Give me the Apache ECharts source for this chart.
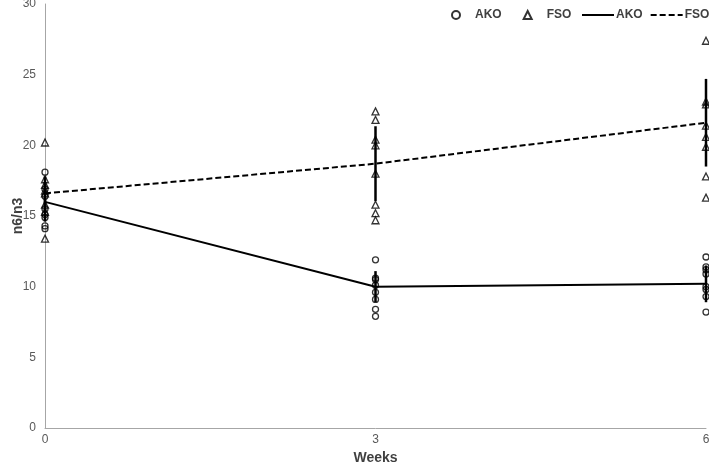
<!DOCTYPE html>
<html>
<head>
<meta charset="utf-8">
<script src="https://cdn.jsdelivr.net/npm/echarts@6/dist/echarts.min.js"></script>
<style>html,body{margin:0;padding:0;background:#fff}#c{width:709px;height:464px}</style>
</head>
<body>
<div id="c"></div>
<script>
var weeks = [0, 3, 6];
var akoWeek0 = [18.1, 16.9, 16.4, 15.5, 15.1, 14.9, 14.3, 14.1];
var akoWeek3 = [11.9, 10.6, 10.5, 10.1, 9.6, 9.1, 8.4, 7.9];
var akoWeek6 = [12.1, 11.4, 11.2, 10.9, 10.0, 9.8, 9.3, 8.2];
var fsoWeek0 = [20.2, 17.6, 17.2, 16.8, 16.6, 15.8, 15.3, 13.4];
var fsoWeek3 = [22.4, 21.8, 20.4, 20.0, 18.0, 15.8, 15.2, 14.7];
var fsoWeek6 = [27.4, 23.1, 22.9, 21.4, 20.6, 19.9, 17.8, 16.3];
var akoMean = [16.0, 10.0, 10.2];
var fsoMean = [16.6, 18.7, 21.6];
var akoSd = [1.4, 1.1, 1.3];
var fsoSd = [1.2, 2.65, 3.1];
var yTicks = [0, 5, 10, 15, 20, 25, 30];

function pts(groups) {
  var out = [];
  groups.forEach(function (g, i) { g.forEach(function (v) { out.push([weeks[i], v]); }); });
  return out;
}
function meanPts(m) { return m.map(function (v, i) { return [weeks[i], v]; }); }
function errPts(m, s) { return m.map(function (v, i) { return [weeks[i], v - s[i], v + s[i]]; }); }

function errRender(params, api) {
  var x = api.value(0);
  var p1 = api.coord([x, api.value(1)]);
  var p2 = api.coord([x, api.value(2)]);
  return { type: 'line', shape: { x1: p1[0], y1: p1[1], x2: p2[0], y2: p2[1] },
           style: { stroke: '#000', lineWidth: 2.5 } };
}

var chart = echarts.init(document.getElementById('c'), null, { renderer: 'canvas' });
var legendText = { color: '#404040', fontWeight: 'bold', fontSize: 12, fontFamily: 'Liberation Sans, Arial, sans-serif' };
chart.setOption({
  animation: false,
  grid: { left: 45, right: 3, top: 4, bottom: 36, containLabel: false, outerBoundsMode: 'none' },
  legend: [
    { data: ['AKO pts', 'FSO pts'], left: 446, top: 4, itemWidth: 8, itemHeight: 8, itemGap: 21, width: 140,
      formatter: function (n) { return n.split(' ')[0]; },
      textStyle: Object.assign({ padding: [0, 0, 0, 10] }, legendText) },
    { data: [{ name: 'AKO line', itemStyle: { opacity: 0 } }, { name: 'FSO line', itemStyle: { opacity: 0 } }],
      left: 576, top: 4, itemWidth: 32, itemHeight: 8, itemGap: 7, width: 160,
      formatter: function (n) { return n.split(' ')[0]; },
      textStyle: Object.assign({ padding: [0, 0, 0, -3] }, legendText) }
  ],
  xAxis: {
    type: 'value', min: 0, max: 6, interval: 3,
    name: 'Weeks', nameLocation: 'middle', nameGap: 22,
    nameTextStyle: { fontWeight: 'bold', fontSize: 14, color: '#404040', fontFamily: 'Liberation Sans, Arial, sans-serif' },
    axisLine: { lineStyle: { color: '#a6a6a6' } },
    axisTick: { show: false },
    axisLabel: { color: '#595959', fontSize: 12, margin: 6, fontFamily: 'Liberation Sans, Arial, sans-serif' },
    splitLine: { show: false }
  },
  yAxis: {
    type: 'value', min: yTicks[0], max: yTicks[yTicks.length - 1], interval: 5,
    name: 'n6/n3', nameLocation: 'middle', nameGap: 20, nameMoveOverlap: false,
    nameTextStyle: { fontWeight: 'bold', fontSize: 14, color: '#404040', fontFamily: 'Liberation Sans, Arial, sans-serif' },
    axisLine: { show: true, lineStyle: { color: '#a6a6a6' } },
    axisTick: { show: false },
    axisLabel: { color: '#595959', fontSize: 12, margin: 9, fontFamily: 'Liberation Sans, Arial, sans-serif' },
    splitLine: { show: false }
  },
  series: [
    { name: 'AKO pts', type: 'scatter', symbol: 'circle', symbolSize: 6, z: 3,
      itemStyle: { color: 'rgba(0,0,0,0)', borderColor: '#000', borderWidth: 1.3 },
      data: pts([akoWeek0, akoWeek3, akoWeek6]) },
    { name: 'FSO pts', type: 'scatter', symbol: 'triangle', symbolSize: 7, z: 3,
      itemStyle: { color: 'rgba(0,0,0,0)', borderColor: '#000', borderWidth: 1.3 },
      data: pts([fsoWeek0, fsoWeek3, fsoWeek6]) },
    { name: 'AKO line', type: 'line', symbol: 'none', z: 4,
      lineStyle: { color: '#000', width: 2, type: 'solid' }, itemStyle: { color: '#000' },
      data: meanPts(akoMean) },
    { name: 'FSO line', type: 'line', symbol: 'none', z: 4,
      lineStyle: { color: '#000', width: 2, type: [6, 3] }, itemStyle: { color: '#000' },
      data: meanPts(fsoMean) },
    { name: 'AKO err', type: 'custom', renderItem: errRender, z: 4,
      encode: { x: 0, y: [1, 2] }, data: errPts(akoMean, akoSd) },
    { name: 'FSO err', type: 'custom', renderItem: errRender, z: 4,
      encode: { x: 0, y: [1, 2] }, data: errPts(fsoMean, fsoSd) }
  ]
});
</script>
</body>
</html>
